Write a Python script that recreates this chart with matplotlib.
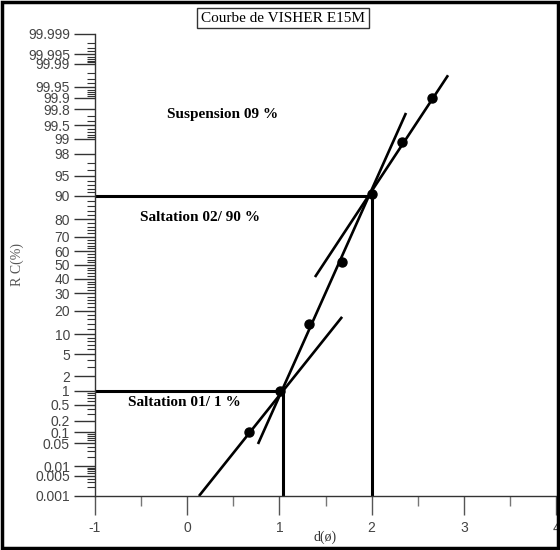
import numpy as np
import matplotlib
matplotlib.use("Agg")
import matplotlib.pyplot as plt
from matplotlib.patches import Rectangle
from statistics import NormalDist

# Cumulative grain-size curve (phi vs cumulative percent)
phi_points = [0.67, 1.01, 1.32, 1.68, 2.00, 2.33, 2.655]
pct_points = [0.1, 1.0, 13.8, 52.0, 90.5, 98.85, 99.9]

# Fitted population segments (end points)
seg_a_phi = [0.128, 1.68]
seg_a_pct = [0.001, 16.9]
seg_b_phi = [0.768, 2.373]
seg_b_pct = [0.0475, 99.75]
seg_c_phi = [1.386, 2.829]
seg_c_pct = [41.2, 99.977]

# Truncation points
trunc_phi = [1.04, 2.00]
trunc_pct = [1.0, 90.0]

y_ticks = [0.001, 0.005, 0.01, 0.05, 0.1, 0.2, 0.5, 1, 2, 5, 10, 20, 30, 40,
           50, 60, 70, 80, 90, 95, 98, 99, 99.5, 99.8, 99.9, 99.95, 99.99,
           99.995, 99.999]
y_tick_labels = ["0.001", "0.005", "0.01", "0.05", "0.1", "0.2", "0.5", "1",
                 "2", "5", "10", "20", "30", "40", "50", "60", "70", "80",
                 "90", "95", "98", "99", "99.5", "99.8", "99.9", "99.95",
                 "99.99", "99.995", "99.999"]
x_ticks = [-1, 0, 1, 2, 3, 4]

_nd = NormalDist()


def _fwd(p):
    p = np.clip(np.asarray(p, dtype=float), 1e-9, 100 - 1e-9)
    return np.vectorize(lambda v: _nd.inv_cdf(v / 100.0))(p) if p.size else p


def _inv(z):
    z = np.asarray(z, dtype=float)
    return np.vectorize(lambda v: _nd.cdf(v) * 100.0)(z) if z.size else z


fig = plt.figure(figsize=(5.6, 5.5), dpi=100)
ax = fig.add_axes([0.1696, 0.0982, 0.8233, 0.84])
ax.set_yscale("function", functions=(_fwd, _inv))
ax.set_xlim(-1, 4)
ax.set_ylim(0.001, 99.999)

lw = 1.9
ax.plot(seg_a_phi, seg_a_pct, color="black", lw=lw, solid_capstyle="butt", clip_on=False)
ax.plot(seg_b_phi, seg_b_pct, color="black", lw=lw, solid_capstyle="butt")
ax.plot(seg_c_phi, seg_c_pct, color="black", lw=lw, solid_capstyle="butt")

# truncation guides
for xp, yp in zip(trunc_phi, trunc_pct):
    ax.plot([-1, xp], [yp, yp], color="black", lw=2.2, solid_capstyle="butt")
    ax.plot([xp, xp], [yp, 0.001], color="black", lw=2.2, solid_capstyle="butt")

ax.plot(phi_points, pct_points, "o", color="black", markersize=6.5, zorder=5)

# Axes styling
for s in ("top", "right"):
    ax.spines[s].set_visible(False)
for s in ("left", "bottom"):
    ax.spines[s].set_color("#333333")
    ax.spines[s].set_linewidth(1.0)

tick_font = {"family": "Liberation Sans", "size": 10}
ax.set_yticks(y_ticks)
ax.set_yticklabels(y_tick_labels, fontdict=tick_font, color="#444444")
ax.set_xticks(x_ticks)
ax.set_xticklabels([str(v) for v in x_ticks], fontdict=tick_font, color="#444444")

minor_y = []
for lo, hi, st in [(0.001, 0.01, 0.001), (0.01, 0.1, 0.01), (0.1, 1, 0.1),
                   (1, 10, 1), (10, 90, 2), (90, 99, 1), (99, 99.9, 0.1),
                   (99.9, 99.99, 0.01), (99.99, 99.999, 0.001)]:
    minor_y.extend(np.arange(lo, hi, st)[1:].tolist())
ax.set_yticks(minor_y, minor=True)
ax.set_xticks([-0.5, 0.5, 1.5, 2.5, 3.5], minor=True)

ax.tick_params(axis="y", which="major", direction="out", length=15, width=1,
               color="#333333", pad=3)
ax.tick_params(axis="y", which="minor", direction="out", length=6, width=0.8,
               color="#333333")
ax.tick_params(axis="x", which="major", direction="out", length=14, width=1,
               color="#555555", pad=4)
ax.tick_params(axis="x", which="minor", direction="out", length=7, width=1,
               color="#777777")

ax.set_xlabel("d(ø)", family="Liberation Serif", fontsize=10, color="#333333",
              labelpad=-3)
ax.set_ylabel("R C(%)", family="Liberation Serif", fontsize=10, color="#555555")
ax.yaxis.set_label_coords(-0.155, 0.5)

# annotations
lab = dict(family="Liberation Serif", fontsize=11, fontweight="bold",
           color="black", va="center", ha="left")
ax.text(-0.219, 99.72, "Suspension 09 %", **lab)
ax.text(-0.512, 81.2, "Saltation 02/ 90 %", **lab)
ax.text(-0.642, 0.57, "Saltation 01/ 1 %", **lab)

# title box
fig.text(0.5054, 0.967, "Courbe de VISHER E15M", family="Liberation Serif",
         fontsize=11, ha="center", va="center",
         bbox=dict(boxstyle="square,pad=0.25", facecolor="white",
                   edgecolor="#333333", linewidth=1))

# outer frame
fig.patches.append(Rectangle((0.004, 0.004), 0.992, 0.992, transform=fig.transFigure,
                             fill=False, edgecolor="black", linewidth=2.5))

fig.savefig("out.png", dpi=100)
